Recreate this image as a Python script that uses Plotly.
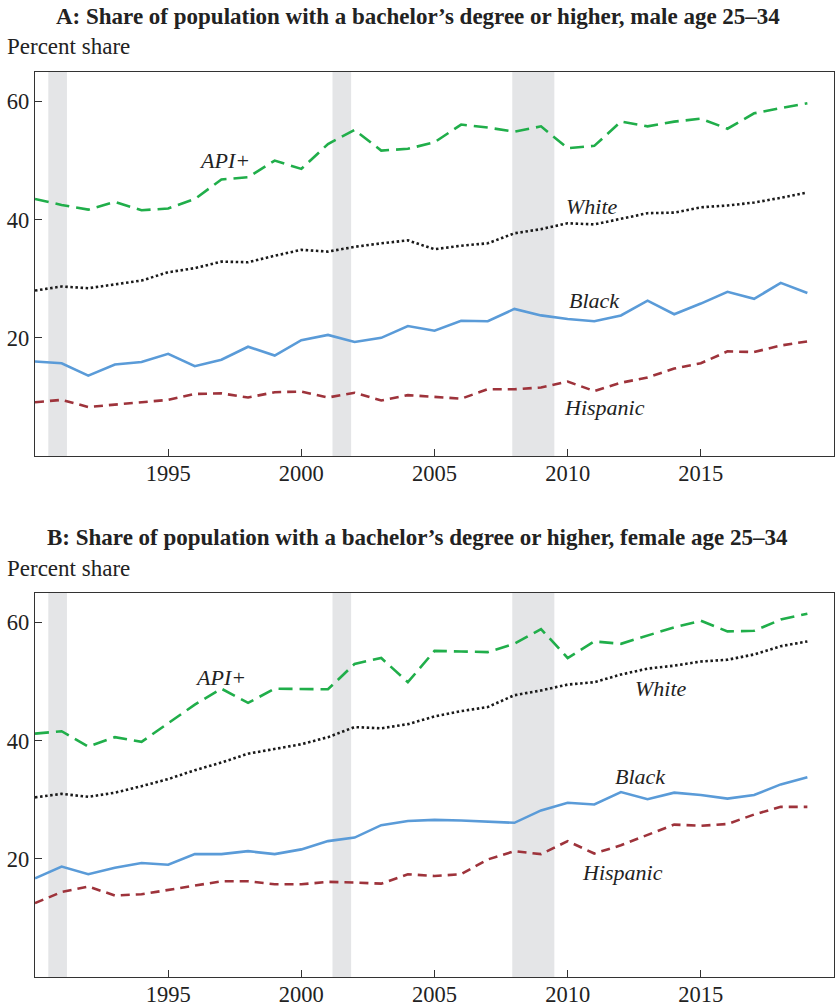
import plotly.graph_objects as go

# Years covered by both panels
years = list(range(1990, 2020))

# Panel A: men age 25-34, percent with a bachelor's degree or higher
male_api = [43.5, 42.5, 41.7, 43.0, 41.6, 41.9, 43.5, 46.8, 47.2, 50.0,
            48.6, 52.8, 55.2, 51.7, 52.0, 53.1, 56.1, 55.6, 54.9, 55.8,
            52.1, 52.5, 56.6, 55.8, 56.6, 57.1, 55.4, 58.0, 58.9, 59.7]
male_white = [28.0, 28.7, 28.4, 29.0, 29.7, 31.1, 31.8, 32.9, 32.8, 33.9,
              34.9, 34.6, 35.4, 36.0, 36.5, 35.0, 35.6, 36.0, 37.7, 38.4,
              39.4, 39.2, 40.1, 41.1, 41.2, 42.1, 42.4, 42.9, 43.7, 44.6]
male_black = [16.0, 15.7, 13.6, 15.5, 15.9, 17.3, 15.2, 16.3, 18.5, 17.0,
              19.6, 20.5, 19.3, 20.0, 22.0, 21.2, 22.9, 22.8, 24.9, 23.8,
              23.2, 22.8, 23.8, 26.3, 24.0, 25.8, 27.8, 26.6, 29.3, 27.6]
male_hispanic = [9.1, 9.5, 8.3, 8.7, 9.0, 9.5, 10.5, 10.6, 9.9, 10.8,
                 10.9, 9.9, 10.7, 9.4, 10.3, 10.0, 9.7, 11.3, 11.3, 11.6,
                 12.6, 11.0, 12.4, 13.3, 14.8, 15.7, 17.7, 17.6, 18.7, 19.4]

# Panel B: women age 25-34
female_api = [41.2, 41.6, 39.0, 40.6, 39.8, 43.0, 46.1, 48.8, 46.4, 48.8,
              48.8, 48.7, 53.0, 54.0, 49.9, 55.2, 55.1, 55.0, 56.4, 58.9,
              54.0, 56.8, 56.4, 57.8, 59.2, 60.3, 58.5, 58.6, 60.5, 61.5]
female_white = [30.4, 31.0, 30.5, 31.2, 32.3, 33.5, 35.0, 36.3, 37.8, 38.6,
                39.4, 40.6, 42.3, 42.1, 42.8, 44.1, 45.0, 45.7, 47.7, 48.5,
                49.5, 49.9, 51.2, 52.2, 52.7, 53.4, 53.7, 54.6, 56.0, 56.8]
female_black = [16.7, 18.7, 17.4, 18.5, 19.3, 19.0, 20.8, 20.8, 21.3, 20.8,
                21.6, 23.0, 23.6, 25.7, 26.4, 26.6, 26.5, 26.3, 26.1, 28.2,
                29.5, 29.2, 31.3, 30.1, 31.2, 30.8, 30.2, 30.8, 32.6, 33.8]
female_hispanic = [12.5, 14.4, 15.3, 13.8, 14.0, 14.7, 15.4, 16.2, 16.2, 15.7,
                   15.7, 16.1, 16.0, 15.8, 17.4, 17.1, 17.4, 19.9, 21.3, 20.8,
                   23.0, 20.9, 22.3, 24.0, 25.8, 25.6, 25.9, 27.5, 28.8, 28.8]

# Recession periods (start, end) in fractional years
recessions = [(1990.5, 1991.2), (2001.17, 2001.87), (2007.92, 2009.5)]

titles = [
    "A: Share of population with a bachelor\u2019s degree or higher, male age 25\u201334",
    "B: Share of population with a bachelor\u2019s degree or higher, female age 25\u201334",
]
x_ticks = [1995, 2000, 2005, 2010, 2015]
y_ticks = [20, 40, 60]

GREEN = "#20ae4a"
BLACK = "#1a1a1a"
BLUE = "#5a9bd8"
RED = "#9e333b"
SERIF = "Liberation Serif"

series_style = [
    ("API+", GREEN, "14px,7px"),
    ("White", BLACK, "2.5px,2.6px"),
    ("Black", BLUE, "solid"),
    ("Hispanic", RED, "9px,6px"),
]

panels = [
    [male_api, male_white, male_black, male_hispanic],
    [female_api, female_white, female_black, female_hispanic],
]

# Series label anchors (x year, y percent) per panel
label_pos = [
    {"API+": (1997.1, 50.0), "White": (2010.9, 42.3),
     "Black": (2011.0, 26.3), "Hispanic": (2011.4, 8.2)},
    {"API+": (1996.95, 50.7), "White": (2013.5, 48.8),
     "Black": (2012.75, 34.0), "Hispanic": (2012.05, 17.7)},
]

H = 1007.0
W = 835.0
x_dom = [35 / W, 834 / W]
y_doms = [[1 - 456 / H, 1 - 72 / H], [1 - 977 / H, 1 - 593 / H]]
title_y = [17, 537]
unit_y = [47, 568]

fig = go.Figure()
shapes = []
annotations = []

for p, data in enumerate(panels):
    xa = "x" if p == 0 else "x2"
    ya = "y" if p == 0 else "y2"
    for (name, color, dash), vals in zip(series_style, data):
        fig.add_trace(go.Scatter(
            x=years, y=vals, mode="lines", name=name,
            line=dict(color=color, width=2.6, dash=dash),
            xaxis=xa, yaxis=ya, showlegend=False, hoverinfo="skip",
        ))
    for (x0, x1) in recessions:
        shapes.append(dict(
            type="rect", xref=xa, yref=f"{ya} domain",
            x0=x0, x1=x1, y0=0, y1=1,
            fillcolor="#e4e5e7", line=dict(width=0), layer="below",
        ))
    for name, (lx, ly) in label_pos[p].items():
        annotations.append(dict(
            x=lx, y=ly, xref=xa, yref=ya, text=f"<i>{name}</i>",
            showarrow=False, xanchor="center", yanchor="middle",
            font=dict(family=SERIF, size=22, color="#222"),
        ))
    annotations.append(dict(
        x=0.5, y=1 - title_y[p] / H, xref="paper", yref="paper",
        text=f"<b>{titles[p]}</b>", showarrow=False,
        xanchor="center", yanchor="middle",
        font=dict(family=SERIF, size=23, color="#222"),
    ))
    annotations.append(dict(
        x=5 / W, y=1 - unit_y[p] / H, xref="paper", yref="paper",
        text="Percent share", showarrow=False,
        xanchor="left", yanchor="middle",
        font=dict(family=SERIF, size=23, color="#222"),
    ))

axis_common = dict(
    showline=True, mirror=True, linecolor="#333", linewidth=1.3,
    ticks="inside", ticklen=7, tickwidth=1.2, tickcolor="#333",
    showgrid=False, zeroline=False, automargin=False,
    tickfont=dict(family=SERIF, size=22.5, color="#222"),
)

layout_axes = {}
for p in range(2):
    sx = "" if p == 0 else "2"
    layout_axes[f"xaxis{sx}"] = dict(
        axis_common, domain=x_dom, range=[1990, 2020],
        tickvals=x_ticks, anchor=f"y{sx}", ticklabelstandoff=-3,
    )
    layout_axes[f"yaxis{sx}"] = dict(
        axis_common, domain=y_doms[p], range=[0, 65],
        tickvals=y_ticks, anchor=f"x{sx}",
    )

fig.update_layout(
    width=835, height=1007,
    margin=dict(l=0, r=0, t=0, b=0),
    paper_bgcolor="white", plot_bgcolor="white",
    shapes=shapes, annotations=annotations,
    **layout_axes,
)

fig.write_html("out.html")
